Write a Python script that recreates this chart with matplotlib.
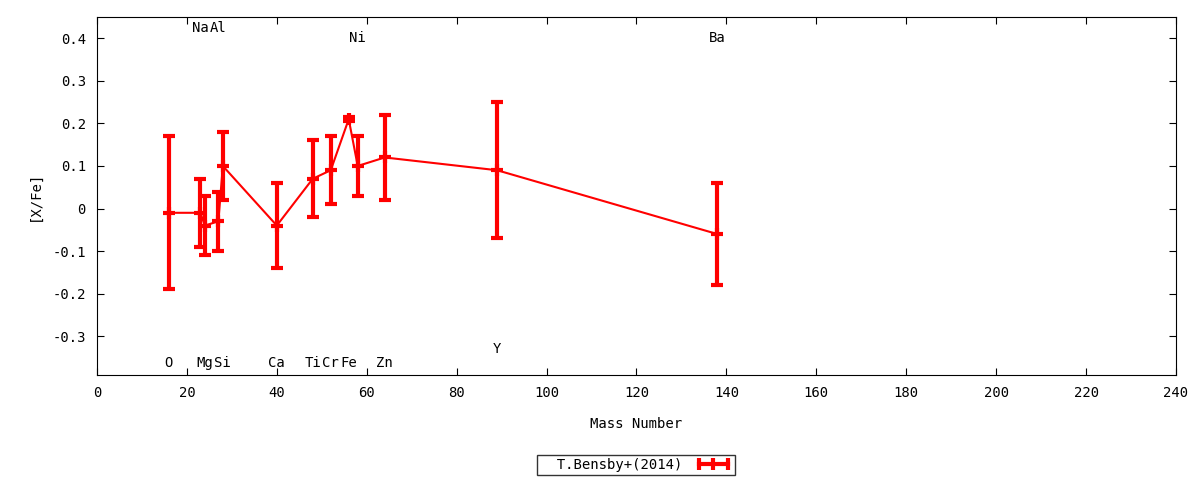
import matplotlib.pyplot as plt
from matplotlib.lines import Line2D
from matplotlib.ticker import FuncFormatter, MultipleLocator

# Daten [X/Fe] vs Massenzahl
mass = [16, 23, 24, 27, 28, 40, 48, 52, 56, 58, 64, 89, 138]
xfe = [-0.01, -0.01, -0.04, -0.03, 0.10, -0.04, 0.07, 0.09, 0.21, 0.10, 0.12, 0.09, -0.06]
err_up = [0.18, 0.08, 0.07, 0.07, 0.08, 0.10, 0.09, 0.08, 0.005, 0.07, 0.10, 0.16, 0.12]
err_lo = [0.18, 0.08, 0.07, 0.07, 0.08, 0.10, 0.09, 0.08, 0.005, 0.07, 0.10, 0.16, 0.12]

elem_names = ['O', 'Na', 'Mg', 'Al', 'Si', 'Ca', 'Ti', 'Cr', 'Fe', 'Ni', 'Zn', 'Y', 'Ba']
elem_mass = [16, 23, 24, 27, 28, 40, 48, 52, 56, 58, 64, 89, 138]
elem_label_y = [-0.363, 0.424, -0.363, 0.424, -0.363, -0.363, -0.363, -0.363, -0.363,
                0.40, -0.363, -0.33, 0.40]

plt.rcParams['font.family'] = ['DejaVu Sans Mono']
fs = 10

fig = plt.figure(figsize=(12, 4.8), dpi=100)
ax = fig.add_axes([0.0808, 0.2188, 0.8992, 0.7458])

ax.errorbar(mass, xfe, yerr=[err_lo, err_up], color='#ff0000', lw=1.5,
            elinewidth=3, capsize=4.5, capthick=3, marker='+', ms=8, mew=3)

for name, m, ly in zip(elem_names, elem_mass, elem_label_y):
    ax.text(m, ly, name, ha='center', va='center', fontsize=fs, color='black')

ax.set_xlim(0, 240)
ax.set_ylim(-0.391, 0.45)
ax.xaxis.set_major_locator(MultipleLocator(20))
ax.yaxis.set_major_locator(MultipleLocator(0.1))
ax.yaxis.set_major_formatter(FuncFormatter(lambda v, p: '%g' % round(v, 2)))
ax.tick_params(direction='in', top=True, right=True, length=5, labelsize=fs, pad=8)

ax.set_xlabel('Mass Number', fontsize=fs, labelpad=12)
ax.set_ylabel('[X/Fe]', fontsize=fs, labelpad=8)

# Legendeneintrag im gnuplot-Stil (Linie mit Endstrichen)
handle = Line2D([], [], color='#ff0000', lw=3, marker='|', ms=9, mew=3)
leg = ax.legend([handle], ['T.Bensby+(2014)'], loc='center',
                bbox_to_anchor=(0.4995, -0.251), fontsize=fs, numpoints=3,
                frameon=True, fancybox=False, edgecolor='black', markerfirst=False,
                handlelength=2.7, borderpad=0.2, borderaxespad=0,
                handletextpad=0.9)
leg.get_frame().set_linewidth(1)
leg.get_texts()[0].set_text('  T.Bensby+(2014)')

fig.savefig('out.png', dpi=100)
